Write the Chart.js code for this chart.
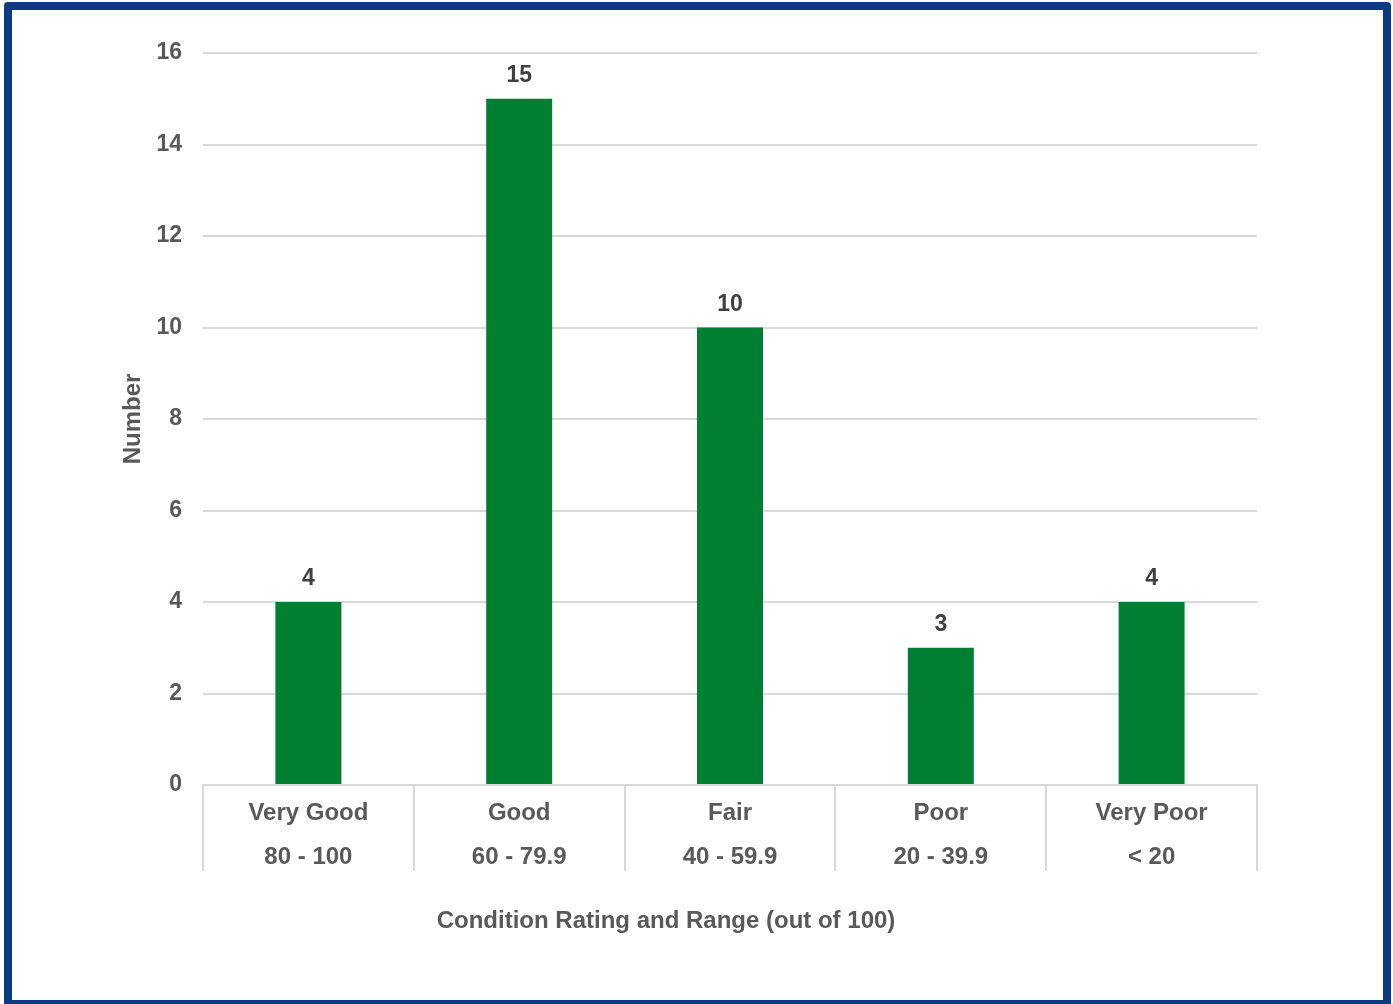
<!DOCTYPE html>
<html>
<head>
<meta charset="utf-8">
<script src="https://cdn.jsdelivr.net/npm/chart.js@4/dist/chart.umd.min.js"></script>
<style>
  html, body { margin: 0; padding: 0; background: #fff; }
  #frame {
    position: absolute;
    left: 4px;
    top: 2px;
    width: 1371px;
    height: 990px;
    border: 8px solid #0a3c86;
    border-radius: 4px;
    background: #fff;
  }
  canvas { display: block; }
</style>
</head>
<body>
<div id="frame"><canvas id="chart" width="1371" height="990"></canvas></div>
<script>
const ratings = ['Very Good', 'Good', 'Fair', 'Poor', 'Very Poor'];
const ranges = ['80 - 100', '60 - 79.9', '40 - 59.9', '20 - 39.9', '< 20'];
const counts = [4, 15, 10, 3, 4];
const yTitle = 'Number';
const xTitle = 'Condition Rating and Range (out of 100)';

const FONT = '"Liberation Sans", Arial, sans-serif';
const TEXT = '#595959';
const GRID = '#d9d9d9';

const labels = ratings.map((r, i) => [r, ranges[i]]);

// value labels above each bar
const valueLabels = {
  id: 'valueLabels',
  afterDatasetsDraw(chart) {
    const ctx = chart.ctx;
    const meta = chart.getDatasetMeta(0);
    ctx.save();
    ctx.font = 'bold 23px ' + FONT;
    ctx.fillStyle = '#404040';
    ctx.textAlign = 'center';
    ctx.textBaseline = 'alphabetic';
    meta.data.forEach((bar, i) => {
      ctx.fillText(String(counts[i]), bar.x, bar.y - 17);
    });
    ctx.restore();
  }
};

// category separators below the axis + x title (left of plot centre, as in the original)
const xDecor = {
  id: 'xDecor',
  afterDraw(chart) {
    const ctx = chart.ctx;
    const x = chart.scales.x;
    const top = chart.chartArea.bottom;
    ctx.save();
    ctx.strokeStyle = GRID;
    ctx.lineWidth = 2;
    for (let i = 0; i <= counts.length; i++) {
      const px = Math.round(x.getPixelForValue(i - 0.5));
      ctx.beginPath();
      ctx.moveTo(px, top);
      ctx.lineTo(px, top + 86);
      ctx.stroke();
    }
    ctx.font = 'bold 24px ' + FONT;
    ctx.fillStyle = TEXT;
    ctx.textAlign = 'center';
    ctx.textBaseline = 'middle';
    ctx.fillText(xTitle, 654, 911);
    ctx.restore();
  }
};

new Chart(document.getElementById('chart'), {
  type: 'bar',
  data: {
    labels: labels,
    datasets: [{
      data: counts,
      backgroundColor: '#007f33',
      borderWidth: 0,
      categoryPercentage: 0.313,
      barPercentage: 1
    }]
  },
  options: {
    responsive: false,
    animation: false,
    devicePixelRatio: 1,
    layout: { padding: { left: 107, right: 126, top: 43, bottom: 121 } },
    plugins: {
      legend: { display: false },
      tooltip: { enabled: false }
    },
    scales: {
      x: {
        afterFit(scale) { scale.height = 94; },
        grid: { display: false, drawTicks: false },
        border: { display: true, color: GRID, width: 2 },
        ticks: {
          padding: 6,
          color: TEXT,
          font: { family: FONT, size: 24, weight: 'bold', lineHeight: 1.833 },
          maxRotation: 0,
          autoSkip: false
        }
      },
      y: {
        min: 0,
        max: 16,
        afterFit(scale) { scale.width = 84; },
        grid: { color: GRID, lineWidth: 2, drawTicks: false },
        border: { display: false },
        ticks: {
          stepSize: 2,
          padding: 21,
          color: TEXT,
          font: { family: FONT, size: 23, weight: 'bold' }
        },
        title: {
          display: true,
          text: yTitle,
          color: TEXT,
          padding: { top: 0, bottom: 5 },
          font: { family: FONT, size: 24, weight: 'bold' }
        }
      }
    }
  },
  plugins: [valueLabels, xDecor]
});
</script>
</body>
</html>
